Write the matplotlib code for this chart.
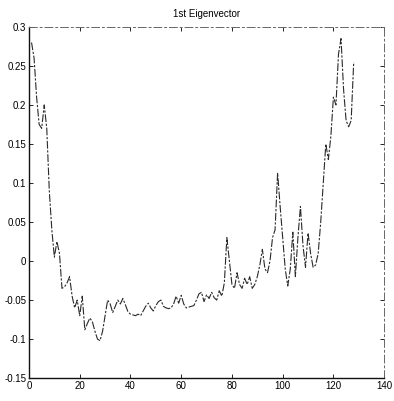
import matplotlib
matplotlib.use("Agg")
import matplotlib.pyplot as plt
import numpy as np

# component values of the 1st eigenvector (index 1..128)
index = np.arange(1, 129)
values = [
    0.28, 0.26, 0.21, 0.175, 0.17, 0.2, 0.17, 0.09, 0.04, 0.005,
    0.025, 0.01, -0.035, -0.033, -0.028, -0.02, -0.045, -0.06, -0.05, -0.07,
    -0.045, -0.088, -0.08, -0.073, -0.078, -0.09, -0.1, -0.102, -0.09, -0.07,
    -0.05, -0.055, -0.066, -0.058, -0.05, -0.055, -0.048, -0.056, -0.065, -0.068,
    -0.069, -0.07, -0.068, -0.07, -0.064, -0.058, -0.054, -0.06, -0.064, -0.057,
    -0.052, -0.05, -0.058, -0.06, -0.061, -0.06, -0.055, -0.045, -0.054, -0.044,
    -0.055, -0.06, -0.059, -0.058, -0.057, -0.05, -0.042, -0.04, -0.052, -0.043,
    -0.048, -0.04, -0.047, -0.05, -0.038, -0.045, -0.028, 0.03, 0.0, -0.03,
    -0.035, -0.015, -0.03, -0.035, -0.022, -0.03, -0.02, -0.035, -0.03, -0.02,
    -0.005, 0.015, -0.01, -0.015, 0.0, 0.03, 0.04, 0.113, 0.07, 0.03,
    -0.01, -0.032, -0.01, 0.037, -0.02, 0.03, 0.07, 0.02, -0.008, 0.036,
    0.01, -0.008, -0.005, 0.01, 0.05, 0.1, 0.15, 0.13, 0.16, 0.21,
    0.2, 0.265, 0.285, 0.22, 0.18, 0.172, 0.18, 0.255,
]

xticks = [0, 20, 40, 60, 80, 100, 120, 140]
yticks = [-0.15, -0.1, -0.05, 0, 0.05, 0.1, 0.15, 0.2, 0.25, 0.3]
yticklabels = ["-0.15", "-0.1", "-0.05", "0", "0.05", "0.1", "0.15", "0.2", "0.25", "0.3"]

plt.rcParams["font.family"] = ["Liberation Sans", "DejaVu Sans"]

fig = plt.figure(figsize=(3.94, 4.01), dpi=100)
ax = fig.add_axes([0.0736, 0.057, 0.9014, 0.876])

ax.plot(index, values, color="#2a2a2a", linewidth=0.8, linestyle=(0, (7, 1.5, 2, 1.5)))

ax.set_xlim(0, 140)
ax.set_ylim(-0.15, 0.3)
ax.set_xticks(xticks)
ax.set_yticks(yticks)
ax.set_yticklabels(yticklabels)
ax.tick_params(direction="in", top=True, right=True, labelsize=7, length=3, width=0.6, pad=2)

for side in ["left", "bottom"]:
    ax.spines[side].set_linewidth(1.0)
    ax.spines[side].set_color("#111111")
for side in ["top", "right"]:
    ax.spines[side].set_linewidth(0.7)
    ax.spines[side].set_color("#666666")
    ax.spines[side].set_linestyle((0, (8, 3, 2, 3)))

ax.set_title("1st Eigenvector", fontsize=7, pad=7)

fig.savefig("out.png", dpi=100)
